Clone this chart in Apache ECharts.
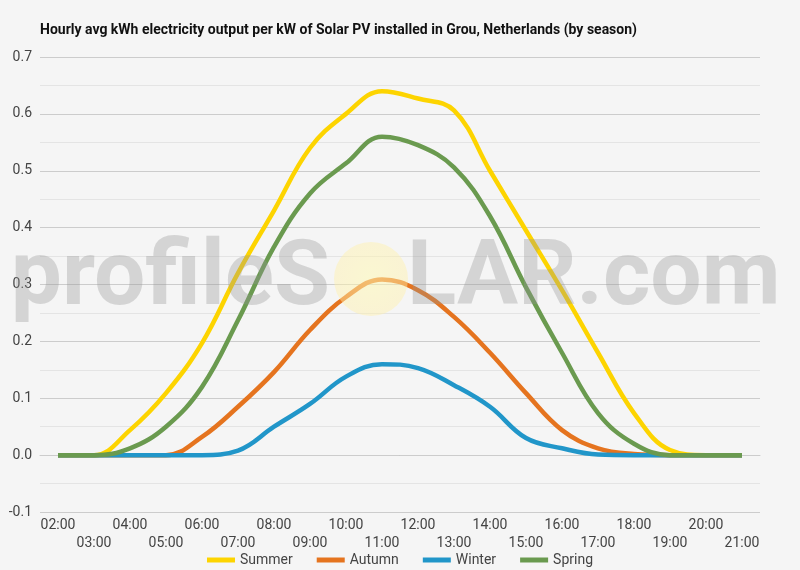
<!DOCTYPE html>
<html>
<head>
<meta charset="utf-8">
<script src="https://cdn.jsdelivr.net/npm/echarts@6/dist/echarts.min.js"></script>
<style>
html,body{margin:0;padding:0;background:#f5f5f5;}
#chart{width:800px;height:570px;}
</style>
</head>
<body>
<div id="chart"></div>
<script>
var hours = ['02:00','03:00','04:00','05:00','06:00','07:00','08:00','09:00','10:00','11:00','12:00','13:00','14:00','15:00','16:00','17:00','18:00','19:00','20:00','21:00'];
var summer = [0, 0, 0.044, 0.109, 0.197, 0.32, 0.43, 0.54, 0.60, 0.64, 0.627, 0.606, 0.50, 0.395, 0.29, 0.18, 0.074, 0.009, 0, 0];
var autumn = [0, 0, 0, 0, 0.032, 0.085, 0.146, 0.22, 0.278, 0.309, 0.29, 0.243, 0.18, 0.109, 0.044, 0.012, 0.002, 0, 0, 0];
var winter = [0, 0, 0, 0, 0, 0.008, 0.05, 0.09, 0.138, 0.16, 0.153, 0.123, 0.085, 0.03, 0.012, 0.001, 0, 0, 0, 0];
var spring = [0, 0, 0.012, 0.05, 0.12, 0.237, 0.366, 0.46, 0.513, 0.56, 0.545, 0.506, 0.42, 0.295, 0.18, 0.074, 0.02, 0, 0, 0];
var seriesNames = ['Summer', 'Autumn', 'Winter', 'Spring'];
var seriesColors = ['#fdd400', '#e5741f', '#2196c9', '#6a9a4f'];

var chart = echarts.init(document.getElementById('chart'));
function mk(name, data, color) {
  return {
    name: name, type: 'line', data: data, smooth: 0.4, symbol: 'none',
    lineStyle: { width: 4.5, color: color }, itemStyle: { color: color }, z: 3
  };
}
var option = {
  backgroundColor: '#f5f5f5',
  textStyle: { fontFamily: 'Roboto' },
  animation: false,
  title: {
    text: 'Hourly avg kWh electricity output per kW of Solar PV installed in Grou, Netherlands (by season)',
    left: 35, top: 18,
    textStyle: { fontSize: 14, fontWeight: 'bold', color: '#111', fontFamily: 'Roboto' }
  },
  legend: {
    top: 548, left: 'center', icon: 'rect', itemWidth: 28, itemHeight: 5, itemGap: 24,
    textStyle: { fontSize: 14, color: '#444', fontFamily: 'Roboto' },
    data: seriesNames
  },
  grid: { left: 40, right: 40, top: 57, bottom: 58 },
  xAxis: {
    type: 'category', data: hours, boundaryGap: true,
    axisTick: { show: false },
    axisLine: { lineStyle: { color: '#ccc' } },
    axisLabel: {
      interval: 0, color: '#444', fontSize: 14, lineHeight: 18, margin: 4,
      formatter: function (v, i) { return i % 2 === 1 ? '\n' + v : v; }
    }
  },
  yAxis: {
    type: 'value', min: -0.1, max: 0.7, interval: 0.1,
    axisLabel: { color: '#444', fontSize: 14, margin: 8, formatter: function (v) { return v.toFixed(1); } },
    axisLine: { show: false }, axisTick: { show: false },
    splitLine: { lineStyle: { color: ['#cccccc', '#333333', '#cccccc', '#cccccc', '#cccccc', '#cccccc', '#cccccc', '#cccccc', '#cccccc'] } },
    minorTick: { show: false, splitNumber: 2 },
    minorSplitLine: { show: true, lineStyle: { color: '#e4e4e4' } }
  },
  graphic: [
    { type: 'circle', shape: { cx: 371, cy: 279, r: 37 }, z: 10,
      style: { fill: new echarts.graphic.RadialGradient(0.5, 0.5, 0.5, [
        { offset: 0, color: 'rgba(255,250,180,0.55)' },
        { offset: 1, color: 'rgba(255,240,170,0.45)' }]) } },
    { type: 'text', z: 10, style: { text: 'profileS', x: 330, y: 281, textAlign: 'right', textVerticalAlign: 'middle',
      font: 'bold 91px Roboto', fill: 'rgba(150,150,150,0.34)' } },
    { type: 'text', z: 10, style: { text: 'LAR.com', x: 407, y: 281, textAlign: 'left', textVerticalAlign: 'middle',
      font: 'bold 91px Roboto', fill: 'rgba(150,150,150,0.34)' } }
  ],
  series: [
    mk(seriesNames[0], summer, seriesColors[0]),
    mk(seriesNames[1], autumn, seriesColors[1]),
    mk(seriesNames[2], winter, seriesColors[2]),
    mk(seriesNames[3], spring, seriesColors[3])
  ]
};
chart.setOption(option);
</script>
</body>
</html>
